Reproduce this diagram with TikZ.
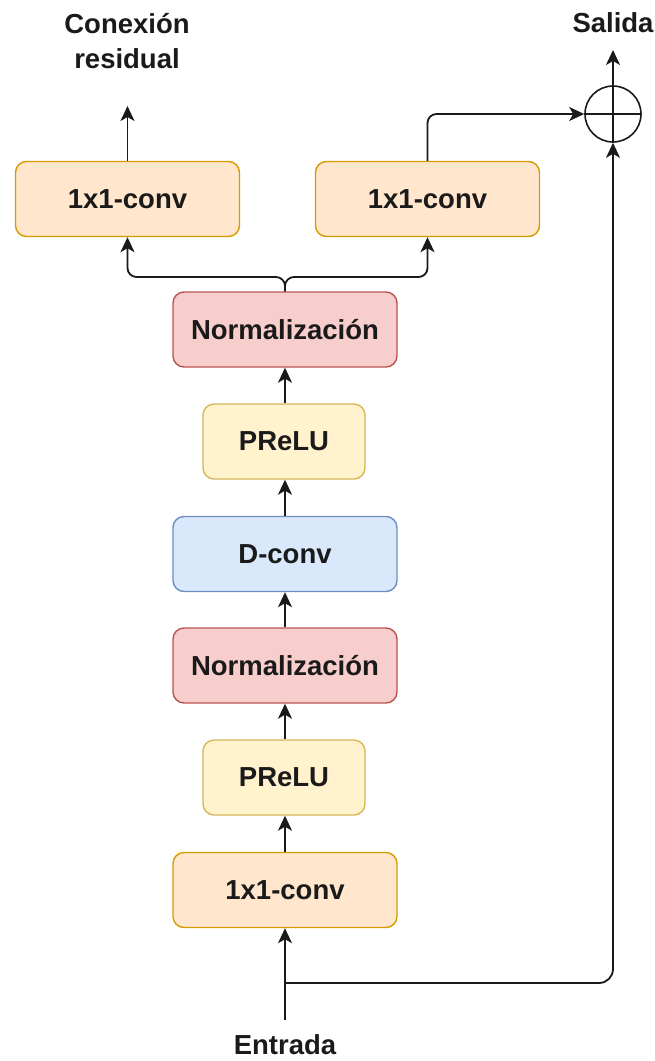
\documentclass[tikz,border=0pt]{standalone}
\usepackage{fontspec}
\setmainfont{Liberation Sans}
\usetikzlibrary{arrows.meta}

\definecolor{orgfill}{HTML}{FFE6CC}\definecolor{orgline}{HTML}{D79B00}
\definecolor{redfill}{HTML}{F8CECC}\definecolor{redline}{HTML}{B85450}
\definecolor{ylwfill}{HTML}{FFF2CC}\definecolor{ylwline}{HTML}{D6B656}
\definecolor{blufill}{HTML}{DAE8FC}\definecolor{bluline}{HTML}{6C8EBF}
\definecolor{ink}{HTML}{1A1A1A}

\tikzset{
  block/.style={rectangle, rounded corners=11pt, line width=1.4pt, inner sep=0pt,
    minimum height=75pt, font=\fontsize{27.5}{34}\selectfont\bfseries, text=ink},
  wideblock/.style={block, minimum width=224pt},
  narrowblock/.style={block, minimum width=162pt},
  convbox/.style={draw=orgline, fill=orgfill},
  normbox/.style={draw=redline, fill=redfill},
  actbox/.style={draw=ylwline, fill=ylwfill},
  dconvbox/.style={draw=bluline, fill=blufill},
  label/.style={font=\fontsize{27.5}{35}\selectfont\bfseries, text=ink, align=center, inner sep=0pt},
  wire/.style={line width=1.8pt, draw=ink},
  arr/.style={wire, -{Stealth[length=15pt,width=14pt,inset=4pt]}},
}

\begin{document}
\begin{tikzpicture}[x=1pt, y=-1pt]
\useasboundingbox (0,0) rectangle (654,1061);

% main stack
\node[wideblock, convbox]   (conv)  at (285,890)   {1x1-conv};
\node[narrowblock, actbox]  (act1)  at (284,777.5) {PReLU};
\node[wideblock, normbox]   (norm1) at (285,665.5) {Normalización};
\node[wideblock, dconvbox]  (dconv) at (285,554)   {D-conv};
\node[narrowblock, actbox]  (act2)  at (284,441.5) {PReLU};
\node[wideblock, normbox]   (norm2) at (285,329.5) {Normalización};

% output heads
\node[wideblock, convbox] (resconv) at (127.5,199) {1x1-conv};
\node[wideblock, convbox] (outconv) at (427.5,199) {1x1-conv};

% summation node
\node[circle, draw=ink, line width=1.6pt, minimum size=56pt, inner sep=0pt] (sum) at (613,114) {};
\draw[wire, line width=1.6pt] (sum.north) -- (sum.south);
\draw[wire, line width=1.6pt] (sum.west) -- (sum.east);

% labels
\node[label] (entrada) at (285,1045) {Entrada};
\node[label] (salida)  at (613,23)   {Salida};
\node[label] (resid)   at (127,41)   {Conexión\\residual};

\coordinate (inTop)  at (285,1020);
\coordinate (split)  at (285,983);
\coordinate (fork)   at (285,277);
\coordinate (resTip) at (127.5,106);
\coordinate (outTip) at (613,50);

% forward chain
\draw[arr] (inTop) -- (conv.south);
\draw[arr] (conv.north) -- (conv.north |- act1.south);
\draw[arr] (conv.north |- act1.north) -- (norm1.south);
\draw[arr] (norm1.north) -- (dconv.south);
\draw[arr] (dconv.north) -- (dconv.north |- act2.south);
\draw[arr] (dconv.north |- act2.north) -- (norm2.south);

% fork into the two heads
\draw[arr, rounded corners=9pt] (norm2.north) -- (fork) -| (resconv.south);
\draw[arr, rounded corners=9pt] (norm2.north) -- (fork) -| (outconv.south);

% head outputs
\draw[arr] (resconv.north) -- (resTip);
\draw[arr, rounded corners=9pt] (outconv.north) |- (sum.west);

% skip path and output
\draw[arr, rounded corners=14pt] (split) -| (sum.south);
\draw[arr] (sum.north) -- (outTip);
\end{tikzpicture}
\end{document}
